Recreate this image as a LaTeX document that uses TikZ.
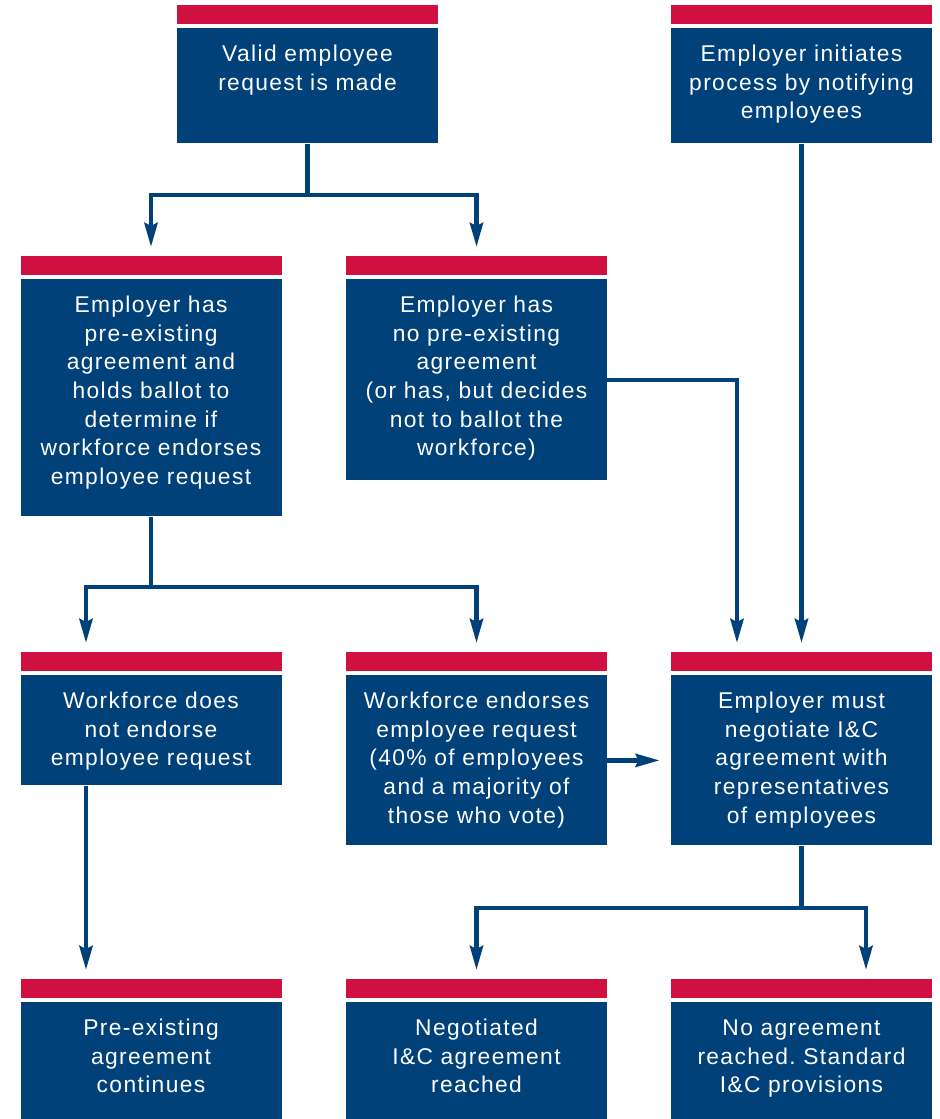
\documentclass[tikz,border=0pt]{standalone}
\usepackage{fontspec}
\setmainfont{Liberation Sans}[LetterSpace=6]
\frenchspacing
\usetikzlibrary{arrows.meta, positioning}

\definecolor{icblue}{RGB}{0,65,122}
\definecolor{icred}{RGB}{208,16,64}

\tikzset{
    stage/.style={fill=icblue, text=white, anchor=north, align=center,
        text width=130.5pt, inner xsep=0pt, inner ysep=0pt, text height=16.5pt,
        font=\fontsize{11.4pt}{14.35pt}\selectfont,
        label={[redbar]above:}},
    redbar/.style={fill=icred, minimum width=130.5pt, minimum height=9.5pt,
        inner sep=0pt, text width=, text height=0pt, text depth=0pt, yshift=2pt},
    flow/.style={draw=icblue, line width=2.3pt,
        -{Stealth[length=12pt, width=6.5pt, inset=1.5pt]}},
    tobox/.style={flow, shorten >=16pt}
}

\begin{document}
\begin{tikzpicture}[x=0.5pt, y=-0.5pt]

        \useasboundingbox (0,0) rectangle (939,1119);

        \node[stage, text depth=41pt] (valid_request) at (307.5,28) {Valid employee\\request is made};
        \node[stage, text depth=41pt] (employer_notifies) at (801.5,28) {Employer initiates\\process by notifying\\employees};

        \node[stage, text depth=102pt] (ballot) at (151,279) {Employer has\\pre-existing\\agreement and\\holds ballot to\\determine if\\workforce endorses\\employee request};
        \node[stage, text depth=84pt] (no_ballot) at (476.5,279) {Employer has\\no pre-existing\\agreement\\(or has, but decides\\not to ballot the\\workforce)};

        \node[stage, text depth=38.5pt] (not_endorsed) at (151,675) {Workforce does\\not endorse\\employee request};
        \node[stage, text depth=68.5pt] (endorsed) at (476.5,675) {Workforce endorses\\employee request\\(40\% of employees\\and a majority of\\those who vote)};
        \node[stage, text depth=68.5pt] (negotiate) at (801.5,675) {Employer must\\negotiate I\&C\\agreement with\\representatives\\of employees};

        \node[stage, text depth=42pt] (existing_continues) at (151,1002) {Pre-existing\\agreement\\continues};
        \node[stage, text depth=42pt] (agreement_reached) at (476.5,1002) {Negotiated\\I\&C agreement\\reached};
        \node[stage, text depth=42pt] (standard_provisions) at (801.5,1002) {No agreement\\reached. Standard\\I\&C provisions};

        \coordinate (request_split) at (307.5,195);
        \coordinate (ballot_split) at (151,587);
        \coordinate (negotiate_split) at (801.5,908);

        \draw[flow, -] (valid_request.south) -- (request_split);
        \draw[tobox] (request_split) -| (ballot.north);
        \draw[tobox] (request_split) -| (no_ballot.north);

        \draw[tobox] (employer_notifies.south) -- (negotiate.north);
        \draw[tobox] (no_ballot.east) -| ([xshift=-32.25pt]negotiate.north);

        \draw[flow, -] (ballot.south) -- (ballot_split);
        \draw[tobox] (ballot_split) -| ([xshift=-32.5pt]not_endorsed.north);
        \draw[tobox] (ballot_split) -| (endorsed.north);

        \draw[tobox] ([xshift=-32.5pt]not_endorsed.south) -- ([xshift=-32.5pt]existing_continues.north);
        \draw[flow, shorten >=5.5pt] (endorsed.east) -- (negotiate.west);

        \draw[flow, -] (negotiate.south) -- (negotiate_split);
        \draw[tobox] (negotiate_split) -| (agreement_reached.north);
        \draw[tobox] (negotiate_split) -| ([xshift=32.25pt]standard_provisions.north);

    \end{tikzpicture}
\end{document}
